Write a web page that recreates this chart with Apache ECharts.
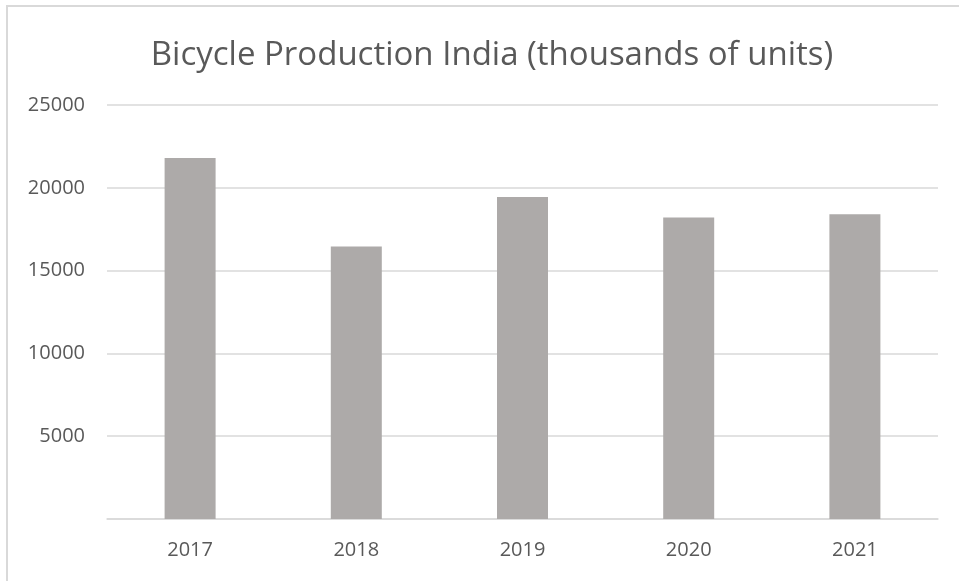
<!DOCTYPE html>
<html>
<head>
<meta charset="utf-8">
<script src="https://cdn.jsdelivr.net/npm/echarts@6/dist/echarts.min.js"></script>
<style>
  html, body { margin: 0; padding: 0; background: #fff; }
  #frame { position: absolute; left: 6px; top: 5px; width: 1000px; height: 600px;
           border-left: 2px solid #d9d9d9; border-top: 2px solid #d9d9d9; }
  #main { position: absolute; left: 0; top: 0; width: 959px; height: 581px; }
</style>
</head>
<body>
<div id="frame"></div>
<div id="main"></div>
<script>
var years = ['2017', '2018', '2019', '2020', '2021'];
var production = [21800, 16450, 19450, 18200, 18400];

var chart = echarts.init(document.getElementById('main'));
var option = {
  backgroundColor: 'transparent',
  title: {
    text: 'Bicycle Production India (thousands of units)',
    left: 487,
    textAlign: 'center',
    top: 34,
    textStyle: {
      fontFamily: 'Open Sans',
      fontSize: 33,
      fontWeight: 'normal',
      color: '#595959'
    }
  },
  grid: { left: 107, right: 21, top: 105, bottom: 62 },
  xAxis: {
    type: 'category',
    data: years,
    axisLine: { lineStyle: { color: '#d9d9d9', width: 1.5 } },
    axisTick: { show: false },
    axisLabel: { color: '#595959', fontFamily: 'Open Sans', fontSize: 20, margin: 21 }
  },
  yAxis: {
    type: 'value',
    min: 0,
    max: 25000,
    interval: 5000,
    axisLine: { show: false },
    axisTick: { show: false },
    splitLine: { lineStyle: { color: '#d9d9d9', width: 1.5 } },
    axisLabel: {
      color: '#595959', fontFamily: 'Open Sans', fontSize: 20, margin: 22,
      formatter: function (v) { return v === 0 ? '' : v; }
    }
  },
  series: [{
    type: 'bar',
    data: production,
    barWidth: 51,
    itemStyle: { color: '#adaaa9' }
  }]
};
chart.setOption(option);
</script>
</body>
</html>
